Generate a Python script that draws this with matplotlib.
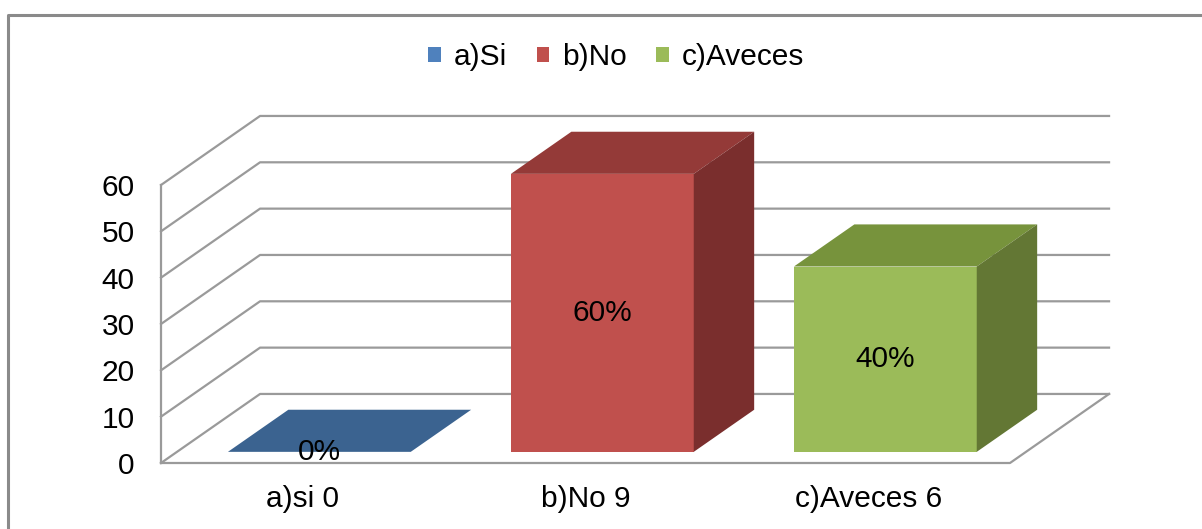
import numpy as np
import matplotlib
matplotlib.use("Agg")
import matplotlib.pyplot as plt
from matplotlib.patches import Polygon, Patch
from matplotlib.lines import Line2D

plt.rcParams['font.family'] = ['Liberation Sans', 'DejaVu Sans']

# data
categories = ['a)si', 'b)No', 'c)Aveces']
counts = [0, 9, 6]
percents = [0, 60, 40]
legend_labels = ['a)Si', 'b)No', 'c)Aveces']
yticks = [0, 10, 20, 30, 40, 50, 60]

face_cols = ['#4F81BD', '#C0504D', '#9BBB59']
top_cols = ['#3B6390', '#943A38', '#77933C']
side_cols = ['#2F4F75', '#7A2E2D', '#637734']

W, H = 1202, 529
fig = plt.figure(figsize=(W / 100, H / 100), dpi=100)
fig.patch.set_facecolor('white')

# front plane of the 3d box
ax = fig.add_axes([161 / W, (H - 463) / H, 849 / W, (463 - 185) / H])
ax.set_xlim(-0.5, 2.5)
ax.set_ylim(0, 60)
for s in ax.spines.values():
    s.set_visible(False)

# depth of the box in data units
DX = 0.35
DY = 14.9
f1, f2 = 0.17, 0.78   # bar front / back depth fraction
BW = 0.646
grid_c = '#9a9a9a'
fs = 21.5

# back wall gridlines + left wall diagonals
for v in yticks:
    ax.plot([-0.5, -0.5 + DX, 2.5 + DX], [v, v + DY, v + DY],
            color=grid_c, lw=1.6, clip_on=False, zorder=1)
# front vertical axis
ax.plot([-0.5, -0.5], [0, 60], color=grid_c, lw=1.6, clip_on=False, zorder=1)
# floor outline
ax.plot([-0.5, 2.5, 2.5 + DX], [0, 0, DY], color=grid_c, lw=1.6, clip_on=False, zorder=1)

x = np.arange(len(categories))
xb = x + f1 * DX
yb = f1 * DY * 0.95
dd = f2 - f1
ax.bar(xb, percents, width=BW, bottom=yb, color=face_cols, zorder=3, clip_on=False)

for i, v in enumerate(percents):
    x0 = xb[i] - BW / 2
    top = yb + v
    ax.add_patch(Polygon([(x0, top), (x0 + BW, top),
                          (x0 + BW + dd * DX, top + dd * DY), (x0 + dd * DX, top + dd * DY)],
                         closed=True, facecolor=top_cols[i], edgecolor='none',
                         zorder=3, clip_on=False))
    if v > 0:
        ax.add_patch(Polygon([(x0 + BW, yb), (x0 + BW, top),
                              (x0 + BW + dd * DX, top + dd * DY), (x0 + BW + dd * DX, yb + dd * DY)],
                             closed=True, facecolor=side_cols[i], edgecolor='none',
                             zorder=3, clip_on=False))
    ax.text(xb[i], yb + v / 2, '%d%%' % v, ha='center', va='center',
            fontsize=fs, color='black', zorder=5)

ax.set_yticks(yticks)
ax.set_yticklabels([str(t) for t in yticks], fontsize=fs)
ax.set_xticks(x)
ax.set_xticklabels(['%s %d' % (c, n) for c, n in zip(categories, counts)], fontsize=fs)
ax.tick_params(axis='y', length=0, pad=19)
ax.tick_params(axis='x', length=0, pad=16)

handles = [Patch(facecolor=c, edgecolor='none') for c in face_cols]
fig.legend(handles, legend_labels, loc='center', bbox_to_anchor=(616 / W, 1 - 57 / H),
           ncol=3, frameon=False, fontsize=fs, handlelength=0.42, handleheight=0.42,
           handletextpad=0.42, columnspacing=1.0)

# chart border
fig.add_artist(Line2D([8 / W, 8 / W, 1], [0, 1 - 15 / H, 1 - 15 / H],
                      transform=fig.transFigure, color='#8a8a8a', lw=2.2))

fig.savefig('out.png', dpi=100)
